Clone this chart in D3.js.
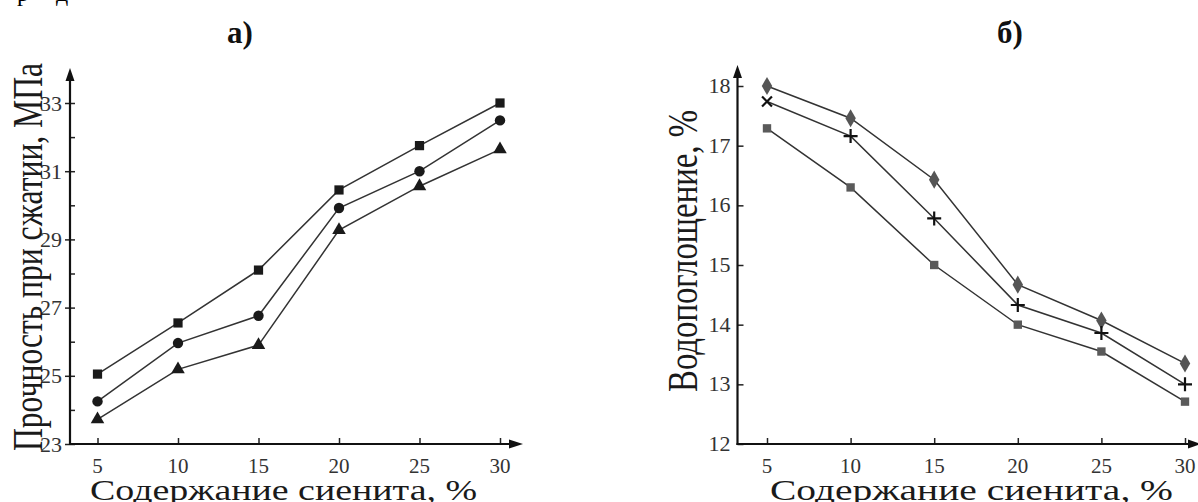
<!DOCTYPE html>
<html>
<head>
<meta charset="utf-8">
<script src="https://cdn.jsdelivr.net/npm/d3@7"></script>
<style>
  body { margin: 0; background: #fff; }
  svg { display: block; font-family: "Liberation Serif", "DejaVu Serif", serif; }
</style>
</head>
<body>
<svg id="chart" width="1198" height="502"></svg>
<script>
// Data
var sienite = [5, 10, 15, 20, 25, 30];

// а) compressive strength, MPa
var strengthSquare = [25.05, 26.55, 28.1, 30.45, 31.75, 33.0];
var strengthCircle = [24.25, 25.96, 26.76, 29.92, 31.0, 32.49];
var strengthTriangle = [23.72, 25.19, 25.9, 29.27, 30.56, 31.64];

// б) water absorption, %
var absorbDiamond = [18.0, 17.46, 16.43, 14.67, 14.07, 13.35];
var absorbCross = [17.74, 17.16, 15.78, 14.33, 13.86, 13.0];
var absorbSquare = [17.29, 16.3, 15.0, 14.0, 13.55, 12.71];

var strengthTicks = [23, 25, 27, 29, 31, 33];
var strengthMinor = [24, 26, 28, 30, 32];
var absorbTicks = [12, 13, 14, 15, 16, 17, 18];

var svg = d3.select("#chart");

// clipped text fragment from the line above
svg.append("text").attr("x", 17).attr("y", 1).style("font-size", "24px").text("р");
svg.append("text").attr("x", 56).attr("y", 1).style("font-size", "24px").text("д");

// ---------- chart а) ----------
var xA = d3.scaleLinear().domain([5, 30]).range([97.5, 500]);
var yA = d3.scaleLinear().domain([23, 33]).range([444, 103]);
var axisXA = 70, axisYA = 444;

var gA = svg.append("g");

// y ticks (major cross the axis, minor inside)
gA.append("g")
    .attr("transform", `translate(${axisXA},0)`)
    .call(d3.axisLeft(yA).tickValues(strengthTicks).tickSize(5).tickPadding(3).tickFormat(d3.format("d")))
    .call(g => g.select(".domain").remove())
    .call(g => g.selectAll("line").attr("stroke", "#222").attr("stroke-width", 1.5).attr("x2", 5).attr("x1", -5))
    .call(g => g.selectAll("text").attr("fill", "#333").style("font-size", "22px").style("font-family", "Liberation Serif"));

gA.append("g")
    .attr("transform", `translate(${axisXA},0)`)
    .call(d3.axisRight(yA).tickValues(strengthMinor).tickSize(5).tickFormat(""))
    .call(g => g.select(".domain").remove())
    .call(g => g.selectAll("line").attr("stroke", "#222").attr("stroke-width", 1.5));

// x ticks (inside)
gA.append("g")
    .attr("transform", `translate(0,${axisYA})`)
    .call(d3.axisTop(xA).tickValues(sienite).tickSize(6).tickFormat(""))
    .call(g => g.select(".domain").remove())
    .call(g => g.selectAll("line").attr("stroke", "#222").attr("stroke-width", 1.5));

gA.append("g")
    .selectAll("text")
    .data(sienite)
    .enter()
    .append("text")
    .attr("x", d => xA(d))
    .attr("y", 473)
    .attr("text-anchor", "middle")
    .attr("fill", "#333")
    .style("font-size", "21px")
    .text(d => d);

// axis lines with arrows
gA.append("line").attr("x1", axisXA).attr("x2", axisXA).attr("y1", axisYA + 1).attr("y2", 78)
    .attr("stroke", "#111").attr("stroke-width", 2.2);
gA.append("path").attr("d", `M${axisXA},68 L${axisXA - 4.5},81 L${axisXA + 4.5},81 Z`).attr("fill", "#111");
gA.append("line").attr("x1", axisXA - 1).attr("x2", 512).attr("y1", axisYA).attr("y2", axisYA)
    .attr("stroke", "#111").attr("stroke-width", 2.2);
gA.append("path").attr("d", `M523,${axisYA} L509,${axisYA - 4.5} L509,${axisYA + 4.5} Z`).attr("fill", "#111");

var lineA = d3.line().x((d, i) => xA(sienite[i])).y(d => yA(d));

[strengthSquare, strengthCircle, strengthTriangle].forEach(function(series) {
    gA.append("path")
        .attr("d", lineA(series))
        .attr("fill", "none")
        .attr("stroke", "#333")
        .attr("stroke-width", 1.5);
});

gA.selectAll(".sq")
    .data(strengthSquare)
    .enter()
    .append("path")
    .attr("transform", (d, i) => `translate(${xA(sienite[i])},${yA(d)})`)
    .attr("d", d3.symbol(d3.symbolSquare, 85)())
    .attr("fill", "#1a1a1a");

gA.selectAll(".ci")
    .data(strengthCircle)
    .enter()
    .append("circle")
    .attr("cx", (d, i) => xA(sienite[i]))
    .attr("cy", d => yA(d))
    .attr("r", 5.2)
    .attr("fill", "#1a1a1a");

gA.selectAll(".tr")
    .data(strengthTriangle)
    .enter()
    .append("path")
    .attr("transform", (d, i) => `translate(${xA(sienite[i])},${yA(d)})`)
    .attr("d", d3.symbol(d3.symbolTriangle, 80)())
    .attr("fill", "#1a1a1a");

// labels
gA.append("text")
    .attr("transform", "translate(42,257) rotate(-90) scale(1,1.35)")
    .attr("text-anchor", "middle")
    .attr("textLength", 388)
    .attr("lengthAdjust", "spacingAndGlyphs")
    .attr("fill", "#1a1a1a")
    .style("font-size", "31px")
    .text("Прочность при сжатии, МПа");

gA.append("text")
    .attr("x", 283.5)
    .attr("y", 500)
    .attr("text-anchor", "middle")
    .attr("textLength", 387)
    .attr("lengthAdjust", "spacingAndGlyphs")
    .attr("fill", "#1a1a1a")
    .style("font-size", "29px")
    .text("Содержание сиенита, %");

gA.append("text")
    .attr("x", 240)
    .attr("y", 43)
    .attr("text-anchor", "middle")
    .attr("fill", "#111")
    .style("font-size", "31px")
    .style("font-weight", "bold")
    .text("а)");

// ---------- chart б) ----------
var xB = d3.scaleLinear().domain([5, 30]).range([767, 1185]);
var yB = d3.scaleLinear().domain([12, 18]).range([444, 86]);
var axisXB = 737.5, axisYB = 444;

var gB = svg.append("g");

gB.append("g")
    .attr("transform", `translate(${axisXB},0)`)
    .call(d3.axisRight(yB).tickValues(absorbTicks).tickSize(6).tickFormat(""))
    .call(g => g.select(".domain").remove())
    .call(g => g.selectAll("line").attr("stroke", "#222").attr("stroke-width", 1.5));

gB.append("g")
    .selectAll("text")
    .data(absorbTicks)
    .enter()
    .append("text")
    .attr("x", axisXB - 7)
    .attr("y", d => yB(d) + 7)
    .attr("text-anchor", "end")
    .attr("fill", "#333")
    .style("font-size", "22px")
    .text(d => d);

gB.append("g")
    .attr("transform", `translate(0,${axisYB})`)
    .call(d3.axisTop(xB).tickValues(sienite).tickSize(6).tickFormat(""))
    .call(g => g.select(".domain").remove())
    .call(g => g.selectAll("line").attr("stroke", "#222").attr("stroke-width", 1.5));

gB.append("g")
    .selectAll("text")
    .data(sienite)
    .enter()
    .append("text")
    .attr("x", d => xB(d))
    .attr("y", 473)
    .attr("text-anchor", "middle")
    .attr("fill", "#333")
    .style("font-size", "21px")
    .text(d => d);

gB.append("line").attr("x1", axisXB).attr("x2", axisXB).attr("y1", axisYB + 1).attr("y2", 75)
    .attr("stroke", "#111").attr("stroke-width", 2.2);
gB.append("path").attr("d", `M${axisXB},65 L${axisXB - 4.5},78 L${axisXB + 4.5},78 Z`).attr("fill", "#111");
gB.append("line").attr("x1", axisXB - 1).attr("x2", 1190).attr("y1", axisYB).attr("y2", axisYB)
    .attr("stroke", "#111").attr("stroke-width", 2.2);
gB.append("path").attr("d", `M1201,${axisYB} L1188,${axisYB - 4.5} L1188,${axisYB + 4.5} Z`).attr("fill", "#111");

var lineB = d3.line().x((d, i) => xB(sienite[i])).y(d => yB(d));

[absorbDiamond, absorbCross, absorbSquare].forEach(function(series) {
    gB.append("path")
        .attr("d", lineB(series))
        .attr("fill", "none")
        .attr("stroke", "#333")
        .attr("stroke-width", 1.5);
});

gB.selectAll(".dm")
    .data(absorbDiamond)
    .enter()
    .append("path")
    .attr("transform", (d, i) => `translate(${xB(sienite[i])},${yB(d)})`)
    .attr("d", d3.symbol(d3.symbolDiamond, 95)())
    .attr("fill", "#555");

gB.selectAll(".bsq")
    .data(absorbSquare)
    .enter()
    .append("path")
    .attr("transform", (d, i) => `translate(${xB(sienite[i])},${yB(d)})`)
    .attr("d", d3.symbol(d3.symbolSquare, 70)())
    .attr("fill", "#5a5a5a");

// first point drawn as x, the rest as +
gB.selectAll(".cr")
    .data(absorbCross)
    .enter()
    .append("path")
    .attr("transform", (d, i) => `translate(${xB(sienite[i])},${yB(d)}) rotate(${i === 0 ? 45 : 0})`)
    .attr("d", "M-7,0 L7,0 M0,-7 L0,7")
    .attr("stroke", "#111")
    .attr("stroke-width", 2.2)
    .attr("fill", "none");

gB.append("text")
    .attr("transform", "translate(697,251) rotate(-90) scale(1,1.32)")
    .attr("text-anchor", "middle")
    .attr("textLength", 282)
    .attr("lengthAdjust", "spacingAndGlyphs")
    .attr("fill", "#1a1a1a")
    .style("font-size", "32px")
    .text("Водопоглощение, %");

gB.append("text")
    .attr("x", 971.5)
    .attr("y", 500)
    .attr("text-anchor", "middle")
    .attr("textLength", 403)
    .attr("lengthAdjust", "spacingAndGlyphs")
    .attr("fill", "#1a1a1a")
    .style("font-size", "29px")
    .text("Содержание сиенита, %");

gB.append("text")
    .attr("x", 1010)
    .attr("y", 43)
    .attr("text-anchor", "middle")
    .attr("fill", "#111")
    .style("font-size", "31px")
    .style("font-weight", "bold")
    .text("б)");
</script>
</body>
</html>
